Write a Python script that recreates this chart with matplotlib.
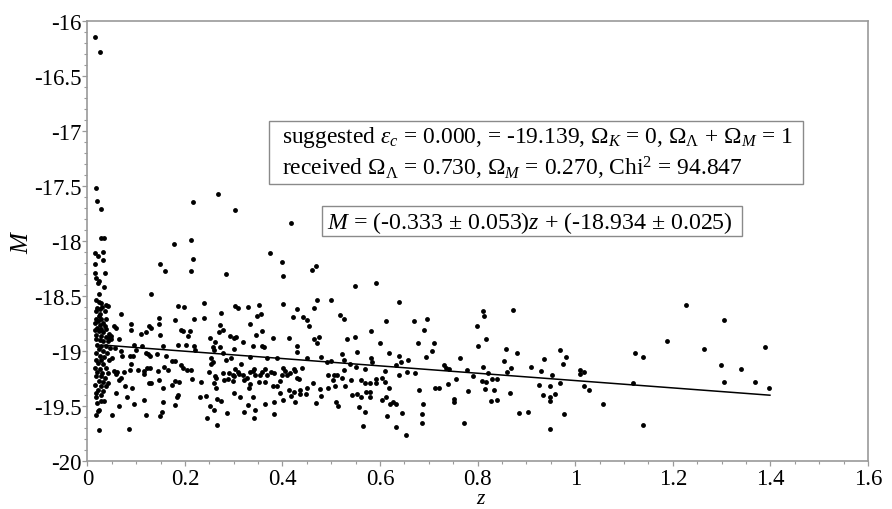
import numpy as np
import matplotlib
matplotlib.use("Agg")
import matplotlib.pyplot as plt
from matplotlib.ticker import MultipleLocator, FuncFormatter
from matplotlib.patches import Rectangle

plt.rcParams['font.family'] = ['Liberation Serif', 'DejaVu Serif']
plt.rcParams['mathtext.fontset'] = 'custom'
plt.rcParams['mathtext.rm'] = 'Liberation Serif'
plt.rcParams['mathtext.it'] = 'Liberation Serif:italic'
plt.rcParams['mathtext.bf'] = 'Liberation Serif:bold'

# ---- data (redshift z, absolute magnitude M) ----
z_outliers = [0.016, 0.026, 0.017, 0.020, 0.029, 0.027, 0.034, 0.216, 0.267, 0.303, 0.417]
M_outliers = [-16.15, -16.28, -17.52, -17.64, -17.71, -17.975, -17.97, -17.65, -17.575, -17.72, -17.84]

z_column = [0.017, 0.023, 0.028, 0.038, 0.042, 0.020, 0.025, 0.031, 0.036, 0.018, 0.026, 0.023,
            0.017, 0.029, 0.039, 0.021, 0.032, 0.016, 0.026, 0.036, 0.020, 0.029, 0.039, 0.016,
            0.024, 0.033, 0.044, 0.018, 0.028, 0.038, 0.048, 0.017, 0.025, 0.033, 0.043, 0.020,
            0.028, 0.038, 0.047, 0.023, 0.032, 0.017, 0.040, 0.025, 0.035, 0.050, 0.018, 0.029,
            0.044, 0.021, 0.032, 0.016, 0.025, 0.038, 0.020, 0.031, 0.042, 0.017, 0.027, 0.036,
            0.023, 0.032, 0.042, 0.016, 0.028, 0.038, 0.021, 0.033, 0.018, 0.028, 0.017, 0.035,
            0.027, 0.020, 0.024,
            0.016, 0.033, 0.021, 0.032, 0.015, 0.036, 0.016, 0.018, 0.023, 0.021, 0.034, 0.024]
M_column = [-18.54, -18.55, -18.56, -18.58, -18.59, -18.61, -18.62, -18.60, -18.64, -18.64, -18.66, -18.68,
            -18.71, -18.71, -18.71, -18.73, -18.74, -18.74, -18.76, -18.77, -18.79, -18.80, -18.80, -18.81,
            -18.82, -18.83, -18.84, -18.85, -18.86, -18.87, -18.86, -18.89, -18.90, -18.91, -18.91, -18.94,
            -18.95, -18.95, -18.97, -18.98, -19.00, -19.02, -19.02, -19.04, -19.05, -19.06, -19.08, -19.08,
            -19.08, -19.11, -19.12, -19.15, -19.16, -19.15, -19.19, -19.20, -19.20, -19.23, -19.23, -19.24,
            -19.27, -19.28, -19.29, -19.31, -19.32, -19.32, -19.35, -19.36, -19.38, -19.40, -19.42, -19.45,
            -19.45, -19.47, -19.53,
            -18.11, -18.10, -18.14, -18.17, -18.21, -18.29, -18.29, -18.34, -18.36, -18.38, -18.42, -18.48]

z_low = [0.178, 0.213, 0.148, 0.159, 0.216, 0.213, 0.131, 0.185, 0.199, 0.068, 0.180, 0.219,
         0.146, 0.146, 0.089, 0.089, 0.054, 0.059, 0.120, 0.109, 0.148, 0.127, 0.131, 0.193,
         0.197, 0.211, 0.206, 0.065, 0.049, 0.044, 0.057, 0.070, 0.072, 0.096, 0.113, 0.099,
         0.087, 0.094, 0.121, 0.125, 0.128, 0.143, 0.156, 0.186, 0.202, 0.219, 0.220, 0.161,
         0.173, 0.180, 0.193, 0.196, 0.212, 0.215, 0.205, 0.180, 0.188, 0.174, 0.157, 0.165,
         0.145, 0.122, 0.128, 0.116, 0.117, 0.104, 0.089, 0.087, 0.075, 0.061, 0.055, 0.059,
         0.065, 0.068, 0.059, 0.077, 0.091, 0.081, 0.065, 0.096, 0.116, 0.126, 0.130, 0.147,
         0.156, 0.186, 0.184, 0.156, 0.154, 0.149, 0.180, 0.230, 0.232, 0.120, 0.050, 0.085,
         0.023, 0.018, 0.022]
M_low = [-18.03, -17.99, -18.21, -18.27, -18.16, -18.27, -18.48, -18.59, -18.60, -18.66, -18.72, -18.71,
         -18.70, -18.75, -18.75, -18.81, -18.77, -18.79, -18.83, -18.84, -18.85, -18.77, -18.79, -18.81,
         -18.82, -18.82, -18.86, -18.89, -18.89, -18.88, -18.97, -19.00, -19.04, -18.94, -18.95, -18.99,
         -19.04, -19.04, -19.02, -19.03, -19.04, -19.03, -18.95, -18.94, -18.94, -18.95, -18.99, -19.04,
         -19.09, -19.09, -19.13, -19.15, -19.17, -19.25, -19.17, -19.27, -19.28, -19.31, -19.14, -19.17,
         -19.18, -19.15, -19.15, -19.21, -19.18, -19.17, -19.12, -19.17, -19.19, -19.19, -19.18, -19.21,
         -19.26, -19.24, -19.38, -19.32, -19.33, -19.42, -19.50, -19.48, -19.44, -19.29, -19.29, -19.26,
         -19.33, -19.40, -19.42, -19.46, -19.55, -19.59, -19.49, -19.42, -19.28, -19.58, -19.58, -19.71,
         -19.72, -19.58, -19.54]

z_mid = [0.374, 0.399, 0.402, 0.285, 0.461, 0.468, 0.239, 0.240, 0.274, 0.303, 0.309, 0.329,
         0.352, 0.356, 0.348, 0.401, 0.430, 0.422, 0.441, 0.450, 0.454, 0.464, 0.471, 0.333,
         0.271, 0.278, 0.270, 0.292, 0.300, 0.305, 0.319, 0.339, 0.346, 0.359, 0.357, 0.362,
         0.380, 0.413, 0.430, 0.430, 0.464, 0.475, 0.471, 0.251, 0.262, 0.258, 0.272, 0.260,
         0.279, 0.300, 0.253, 0.257, 0.254, 0.285, 0.295, 0.333, 0.369, 0.388, 0.450, 0.479,
         0.491,
         0.249, 0.261, 0.264, 0.259, 0.264, 0.279, 0.281, 0.288, 0.290, 0.298, 0.298, 0.301,
         0.303, 0.308, 0.311, 0.315, 0.319, 0.321, 0.327, 0.334, 0.339, 0.341, 0.343, 0.352,
         0.353, 0.357, 0.365, 0.369, 0.364, 0.376, 0.382, 0.380, 0.389, 0.395, 0.398, 0.402,
         0.406, 0.410, 0.415, 0.423, 0.426, 0.429, 0.433, 0.440, 0.395, 0.401, 0.413, 0.417,
         0.426, 0.423, 0.436, 0.436, 0.449, 0.450, 0.462, 0.468, 0.476, 0.479, 0.494, 0.493,
         0.244, 0.266, 0.274, 0.251, 0.259, 0.245, 0.266, 0.286, 0.313, 0.300, 0.331, 0.339,
         0.330, 0.322, 0.343, 0.341, 0.365, 0.382, 0.383, 0.333]
M_mid = [-18.11, -18.19, -18.32, -18.30, -18.26, -18.23, -18.56, -18.70, -18.65, -18.59, -18.61, -18.60,
         -18.58, -18.66, -18.68, -18.57, -18.62, -18.69, -18.69, -18.72, -18.77, -18.61, -18.54, -18.75,
         -18.76, -18.81, -18.83, -18.86, -18.88, -18.87, -18.92, -18.95, -18.85, -18.82, -18.95, -18.96,
         -18.88, -18.88, -18.95, -19.01, -18.89, -18.87, -18.93, -18.88, -18.92, -18.96, -18.96, -18.99,
         -19.02, -18.98, -19.06, -19.10, -19.12, -19.08, -19.06, -19.05, -19.06, -19.06, -19.06, -19.05,
         -19.10,
         -19.19, -19.23, -19.24, -19.29, -19.33, -19.20, -19.26, -19.25, -19.20, -19.22, -19.27, -19.23,
         -19.16, -19.19, -19.21, -19.12, -19.22, -19.26, -19.24, -19.19, -19.18, -19.16, -19.22, -19.28,
         -19.22, -19.19, -19.16, -19.22, -19.28, -19.19, -19.20, -19.32, -19.32, -19.27, -19.22, -19.15,
         -19.18, -19.22, -19.20, -19.16, -19.18, -19.24, -19.25, -19.15, -19.38, -19.44, -19.35, -19.41,
         -19.46, -19.37, -19.35, -19.39, -19.39, -19.33, -19.29, -19.47, -19.34, -19.41, -19.33, -19.22,
         -19.41, -19.43, -19.45, -19.50, -19.53, -19.61, -19.67, -19.56, -19.42, -19.38, -19.33, -19.42,
         -19.49, -19.55, -19.53, -19.61, -19.48, -19.57, -19.46, -19.30]

z_high = [0.548, 0.592, 0.639, 0.499, 0.518, 0.527, 0.613, 0.669, 0.697, 0.691, 0.581, 0.532,
          0.549, 0.599, 0.678, 0.710, 0.707, 0.695, 0.552, 0.522, 0.527, 0.619, 0.639, 0.657,
          0.642, 0.581, 0.583, 0.500, 0.539, 0.550, 0.527, 0.570, 0.632, 0.610, 0.656, 0.671,
          0.639, 0.763, 0.730, 0.735, 0.741, 0.755, 0.739, 0.712, 0.720, 0.680, 0.505, 0.511,
          0.522, 0.503, 0.540, 0.561, 0.569, 0.580, 0.592, 0.591, 0.603, 0.611, 0.619, 0.528,
          0.507, 0.543, 0.552, 0.561, 0.571, 0.580, 0.580, 0.612, 0.603, 0.621, 0.626, 0.632,
          0.510, 0.514, 0.557, 0.569, 0.688, 0.751, 0.751, 0.645, 0.615, 0.686, 0.686, 0.564,
          0.633, 0.654]
M_high = [-18.41, -18.38, -18.55, -18.54, -18.67, -18.71, -18.73, -18.73, -18.71, -18.81, -18.82, -18.89,
          -18.87, -18.93, -18.93, -18.93, -19.00, -19.05, -19.01, -19.03, -19.08, -19.02, -19.04, -19.08,
          -19.10, -19.06, -19.10, -19.09, -19.12, -19.14, -19.17, -19.16, -19.13, -19.18, -19.19, -19.20,
          -19.22, -19.06, -19.13, -19.15, -19.16, -19.25, -19.30, -19.33, -19.33, -19.35, -19.22, -19.22,
          -19.24, -19.26, -19.26, -19.26, -19.29, -19.29, -19.29, -19.25, -19.24, -19.28, -19.33, -19.32,
          -19.32, -19.40, -19.39, -19.42, -19.37, -19.37, -19.42, -19.42, -19.44, -19.48, -19.46, -19.48,
          -19.46, -19.50, -19.51, -19.55, -19.48, -19.43, -19.46, -19.56, -19.59, -19.57, -19.65, -19.68,
          -19.69, -19.76]

z_far = [0.811, 0.813, 0.873, 0.798, 0.817, 0.800, 0.858, 0.881, 0.968, 0.982, 0.935, 0.974,
         0.853, 0.779, 0.810, 0.821, 0.869, 0.860, 0.909, 0.930, 0.953, 1.009, 1.009, 1.018,
         0.790, 0.809, 0.817, 0.829, 0.839, 0.815, 0.833, 0.781, 0.867, 0.925, 0.949, 0.969,
         1.018, 1.028, 0.934, 0.949, 0.949, 0.959, 0.828, 0.839, 0.884, 0.904, 0.977, 0.771,
         0.949,
         1.228, 1.304, 1.189, 1.123, 1.138, 1.263, 1.298, 1.304, 1.119, 1.056, 1.138,
         1.388, 1.339, 1.368, 1.398]
M_far = [-18.64, -18.68, -18.63, -18.77, -18.89, -18.95, -18.98, -19.02, -18.99, -19.05, -19.07, -19.12,
         -19.09, -19.17, -19.14, -19.20, -19.15, -19.19, -19.14, -19.18, -19.22, -19.17, -19.21, -19.19,
         -19.23, -19.27, -19.28, -19.25, -19.25, -19.34, -19.35, -19.36, -19.38, -19.31, -19.32, -19.29,
         -19.32, -19.35, -19.40, -19.42, -19.45, -19.39, -19.45, -19.44, -19.56, -19.55, -19.57, -19.65,
         -19.71,
         -18.58, -18.72, -18.91, -19.02, -19.05, -18.98, -19.13, -19.28, -19.29, -19.48, -19.67,
         -18.96, -19.16, -19.28, -19.33]

fit_slope = -0.333
fit_intercept = -18.934
fit_z_range = [0.034, 1.399]

z_all = np.array(z_outliers + z_column + z_low + z_mid + z_high + z_far)
M_all = np.array(M_outliers + M_column + M_low + M_mid + M_high + M_far)

# ---- figure ----
fig = plt.figure(figsize=(8.92, 5.10), dpi=100)
ax = fig.add_axes([0.0979, 0.0935, 0.8752, 0.864])

ax.plot(z_all, M_all, 'o', color='black', ms=3.5, mew=0, zorder=3)
zz = np.array(fit_z_range)
ax.plot(zz, fit_slope * zz + fit_intercept, color='black', lw=1.1, zorder=2)

ax.set_xlim(0, 1.6)
ax.set_ylim(-20, -16)
ax.xaxis.set_major_locator(MultipleLocator(0.2))
ax.xaxis.set_minor_locator(MultipleLocator(0.05))
ax.yaxis.set_major_locator(MultipleLocator(0.5))
ax.yaxis.set_minor_locator(MultipleLocator(0.1))
fmt = FuncFormatter(lambda v, p: f"{v:g}")
ax.xaxis.set_major_formatter(fmt)
ax.yaxis.set_major_formatter(fmt)

spine_col = '#9a9a9a'
for s in ax.spines.values():
    s.set_color(spine_col)
    s.set_linewidth(1.2)
ax.tick_params(axis='both', which='major', direction='out', length=3.5, width=0.9,
               color=spine_col, labelsize=16.5, labelcolor='black')
ax.tick_params(axis='both', which='minor', direction='out', length=2.3, width=0.8,
               color=spine_col)
ax.tick_params(axis='y', which='major', pad=0.5)
ax.tick_params(axis='x', which='major', pad=1.5)

ax.set_xlabel('$z$', fontsize=15.5)
ax.set_ylabel('$M$', fontsize=18)
ax.xaxis.set_label_coords(0.504, -0.0635)
ax.xaxis.label.set_va('top')
ax.yaxis.set_label_coords(-0.0836, 0.50)
ax.yaxis.label.set_va('center')

# annotation boxes
box_col = '#8a8a8a'
ax.add_patch(Rectangle((0.2327, 0.6294), 0.9171 - 0.2327, 0.7730 - 0.6294,
                       transform=ax.transAxes, fill=True, facecolor='white',
                       edgecolor=box_col, lw=1.0, zorder=4))
ax.add_patch(Rectangle((0.3002, 0.5107), 0.8390 - 0.3002, 0.5788 - 0.5107,
                       transform=ax.transAxes, fill=True, facecolor='white',
                       edgecolor=box_col, lw=1.0, zorder=4))

line1 = r"suggested $\varepsilon_c$ = 0.000, = -19.139, $\Omega_K$ = 0, $\Omega_\Lambda$ + $\Omega_M$ = 1"
line2 = r"received $\Omega_\Lambda$ = 0.730, $\Omega_M$ = 0.270, Chi$^2$ = 94.847"
line3 = r"$M$ = (-0.333 ± 0.053)$z$ + (-18.934 ± 0.025)"
ax.text(0.249, 0.724, line1, transform=ax.transAxes, fontsize=16.9, va='baseline', ha='left', zorder=5)
ax.text(0.249, 0.652, line2, transform=ax.transAxes, fontsize=16.9, va='baseline', ha='left', zorder=5)
ax.text(0.3067, 0.5295, line3, transform=ax.transAxes, fontsize=17.2, va='baseline', ha='left', zorder=5)

fig.savefig('out.png', dpi=100)
